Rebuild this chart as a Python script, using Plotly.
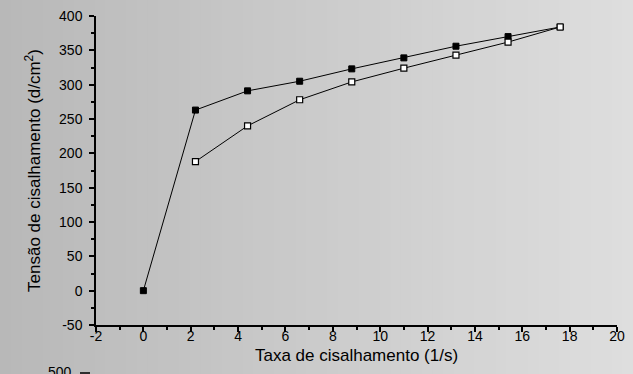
import plotly.graph_objects as go

# Data
x_filled = [0, 2.2, 4.4, 6.6, 8.8, 11.0, 13.2, 15.4, 17.6]
y_filled = [0, 263, 291, 305, 323, 339, 356, 370, 384]
x_open = [2.2, 4.4, 6.6, 8.8, 11.0, 13.2, 15.4, 17.6]
y_open = [188, 240, 278, 304, 324, 343, 362, 384]

x_ticks = [-2, 0, 2, 4, 6, 8, 10, 12, 14, 16, 18, 20]
y_ticks = [-50, 0, 50, 100, 150, 200, 250, 300, 350, 400]

x_title = "Taxa de cisalhamento (1/s)"
y_title = "Tensão de cisalhamento (d/cm<sup>2</sup>)"

W, H = 633, 374
ML, MR, MT, MB = 96, 16, 16, 49
PW, PH = W - ML - MR, H - MT - MB
FONT = "Liberation Sans, Arial, sans-serif"

fig = go.Figure()
fig.add_trace(go.Scatter(
    x=x_filled, y=y_filled, mode="lines+markers",
    line=dict(color="black", width=1),
    marker=dict(symbol="square", size=6, color="black",
                line=dict(color="black", width=1)),
    showlegend=False))
fig.add_trace(go.Scatter(
    x=x_open, y=y_open, mode="lines+markers",
    line=dict(color="black", width=1),
    marker=dict(symbol="square", size=6, color="white",
                line=dict(color="black", width=1.2)),
    showlegend=False))

# gradient background strips (paper coords across full figure)
shapes = []
n = 60
c0, c1 = 184, 222
for i in range(n):
    px0 = W * i / n
    px1 = W * (i + 1) / n + 1
    c = int(round(c0 + (c1 - c0) * (i + 0.5) / n))
    shapes.append(dict(
        type="rect", xref="paper", yref="paper",
        x0=(px0 - ML) / PW, x1=(px1 - ML) / PW,
        y0=-MB / PH - 0.02, y1=(H - MB) / PH + 0.02,
        fillcolor=f"rgb({c},{c},{c})", line=dict(width=0), layer="below"))
# partial tick of next chart at bottom
shapes.append(dict(type="line", xref="paper", yref="paper",
                   x0=(80 - ML) / PW, x1=(90 - ML) / PW,
                   y0=(H - MB - 373) / PH, y1=(H - MB - 373) / PH,
                   line=dict(color="black", width=1.5)))

fig.update_layout(
    width=W, height=H,
    margin=dict(l=ML, r=MR, t=MT, b=MB, autoexpand=False),
    paper_bgcolor="rgb(205,205,205)",
    plot_bgcolor="rgba(0,0,0,0)",
    font=dict(family=FONT, color="black", size=14),
    shapes=shapes,
    annotations=[dict(text="500", xref="paper", yref="paper",
                      x=(60 - ML) / PW, y=(H - MB - 362) / PH,
                      xanchor="center", yanchor="top", showarrow=False,
                      font=dict(size=14, family=FONT, color="black"))],
)
fig.update_xaxes(
    range=[-2, 20], tickmode="array", tickvals=x_ticks,
    ticktext=[str(v) for v in x_ticks], automargin=False,
    showgrid=False, zeroline=False, showline=True, linecolor="black",
    linewidth=1.5, ticks="outside", ticklen=5, tickwidth=1.5, tickcolor="black",
    minor=dict(dtick=1, ticks="outside", ticklen=3, tickwidth=1.5, tickcolor="black"),
    tickfont=dict(size=14, family=FONT, color="black"), ticklabelstandoff=-8,
    title=dict(text=x_title, font=dict(size=17, family=FONT, color="black"), standoff=7))
fig.update_yaxes(
    range=[-50, 400], tickmode="array", tickvals=y_ticks,
    ticktext=[str(v) for v in y_ticks], automargin=False,
    showgrid=False, zeroline=False, showline=True, linecolor="black",
    linewidth=1.5, ticks="outside", ticklen=5, tickwidth=1.5, tickcolor="black",
    minor=dict(dtick=25, ticks="outside", ticklen=3, tickwidth=1.5, tickcolor="black"),
    tickfont=dict(size=14, family=FONT, color="black"), ticklabelstandoff=4,
    title=dict(text=y_title, font=dict(size=17, family=FONT, color="black"), standoff=14))

fig.write_html(
    "out.html",
    config={"displayModeBar": False},
    post_script="document.body.style.margin='0';document.body.style.overflow='hidden';")
